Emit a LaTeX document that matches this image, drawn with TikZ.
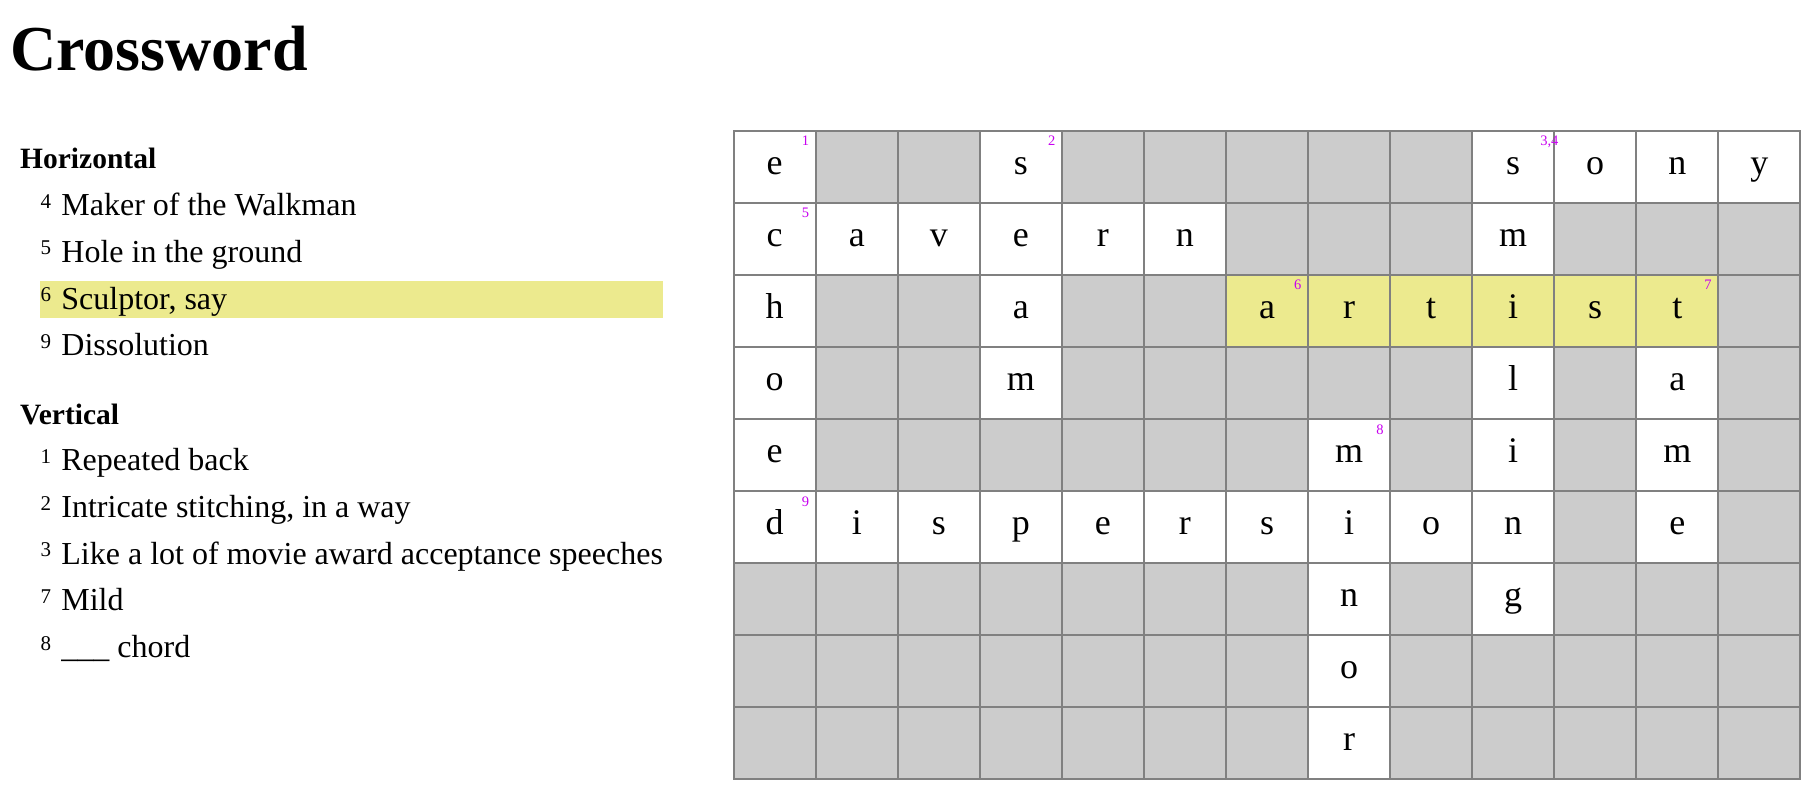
\documentclass[tikz,border=0pt]{standalone}
\usepackage{fontspec}
\setmainfont{Liberation Serif}
\definecolor{cellgray}{RGB}{204,204,204}
\definecolor{linegray}{RGB}{128,128,128}
\definecolor{hilite}{RGB}{236,234,142}
\definecolor{numcol}{RGB}{200,0,240}
\tikzset{
  titletext/.style={anchor=base west, inner sep=0pt, font=\fontsize{64}{64}\selectfont\bfseries},
  headtext/.style={anchor=base west, inner sep=0pt, font=\fontsize{29.5}{30}\selectfont\bfseries},
  cluenum/.style={anchor=base west, inner sep=0pt, font=\fontsize{21}{21}\selectfont},
  cluetext/.style={anchor=base west, inner sep=0pt, font=\fontsize{32}{32}\selectfont},
  cellletter/.style={anchor=base, inner sep=0pt, font=\fontsize{36}{36}\selectfont},
  cellnum/.style={anchor=base west, inner sep=0pt, font=\fontsize{14.5}{14.5}\selectfont, text=numcol},
  gridline/.style={draw=linegray, line width=2pt, line cap=rect},
}
\begin{document}
\begin{tikzpicture}[x=1pt,y=-1pt]
\useasboundingbox[fill=white] (0,0) rectangle (1818,794);
\def\gx{733.7}\def\cw{82.05}\def\gy{131.3}\def\ch{72}
% title
\node[titletext] (title) at (10,71) {Crossword};
% clue lists
\node[headtext] (hhead) at (20,169) {Horizontal};
\fill[hilite] (40,281) rectangle (662.6,317.7);
\node[cluenum] (hn4) at (40.5,208.3) {4};
\node[cluetext] (ht4) at (61.2,215.7) {Maker of the Walkman};
\node[cluenum] (hn5) at (40.5,255.0) {5};
\node[cluetext] (ht5) at (61.2,262.4) {Hole in the ground};
\node[cluenum] (hn6) at (40.5,301.7) {6};
\node[cluetext] (ht6) at (61.2,309.1) {Sculptor, say};
\node[cluenum] (hn9) at (40.5,348.4) {9};
\node[cluetext] (ht9) at (61.2,355.8) {Dissolution};
\node[headtext] (vhead) at (20,424) {Vertical};
\node[cluenum] (vn1) at (40.5,463.3) {1};
\node[cluetext] (vt1) at (61.2,470.7) {Repeated back};
\node[cluenum] (vn2) at (40.5,510.0) {2};
\node[cluetext] (vt2) at (61.2,517.4) {Intricate stitching, in a way};
\node[cluenum] (vn3) at (40.5,556.7) {3};
\node[cluetext] (vt3) at (61.2,564.1) {Like a lot of movie award acceptance speeches};
\node[cluenum] (vn7) at (40.5,603.4) {7};
\node[cluetext] (vt7) at (61.2,610.8) {Mild};
\node[cluenum] (vn8) at (40.5,650.1) {8};
\node[cluetext] (vt8) at (61.2,657.5) {\textunderscore\textunderscore\textunderscore{} chord};
% grid background
\fill[cellgray] (\gx,\gy) rectangle ({\gx+13*\cw},{\gy+9*\ch});
% white cells
\foreach \r/\c in {0/0,0/3,0/9,0/10,0/11,0/12,
                   1/0,1/1,1/2,1/3,1/4,1/5,1/9,
                   2/0,2/3,
                   3/0,3/3,3/9,3/11,
                   4/0,4/7,4/9,4/11,
                   5/0,5/1,5/2,5/3,5/4,5/5,5/6,5/7,5/8,5/9,5/11,
                   6/7,6/9,7/7,8/7}
  \fill[white] ({\gx+\c*\cw},{\gy+\r*\ch}) rectangle ({\gx+(\c+1)*\cw},{\gy+(\r+1)*\ch});
% highlighted cells
\foreach \c in {6,...,11}
  \fill[hilite] ({\gx+\c*\cw},{\gy+2*\ch}) rectangle ({\gx+(\c+1)*\cw},{\gy+3*\ch});
% grid lines
\foreach \i in {0,...,13}
  \draw[gridline] ({\gx+\i*\cw},\gy) -- ({\gx+\i*\cw},{\gy+9*\ch});
\foreach \j in {0,...,9}
  \draw[gridline] (\gx,{\gy+\j*\ch}) -- ({\gx+13*\cw},{\gy+\j*\ch});
% letters
\foreach \r/\c/\l in {0/0/e,0/3/s,0/9/s,0/10/o,0/11/n,0/12/y,
                      1/0/c,1/1/a,1/2/v,1/3/e,1/4/r,1/5/n,1/9/m,
                      2/0/h,2/3/a,2/6/a,2/7/r,2/8/t,2/9/i,2/10/s,2/11/t,
                      3/0/o,3/3/m,3/9/l,3/11/a,
                      4/0/e,4/7/m,4/9/i,4/11/m,
                      5/0/d,5/1/i,5/2/s,5/3/p,5/4/e,5/5/r,5/6/s,5/7/i,5/8/o,5/9/n,5/11/e,
                      6/7/n,6/9/g,7/7/o,8/7/r}
  \node[cellletter] (L\r-\c) at ({\gx+(\c+0.5)*\cw},{\gy+(\r+0.5)*\ch+7}) {\l};
% cell numbers
\foreach \r/\c/\n in {0/0/1,0/3/2,0/9/{3,4},1/0/5,2/6/6,2/11/7,4/7/8,5/0/9}
  \node[cellnum] (N\r-\c) at ({\gx+\c*\cw+68},{\gy+\r*\ch+14.7}) {\n};
\end{tikzpicture}
\end{document}
